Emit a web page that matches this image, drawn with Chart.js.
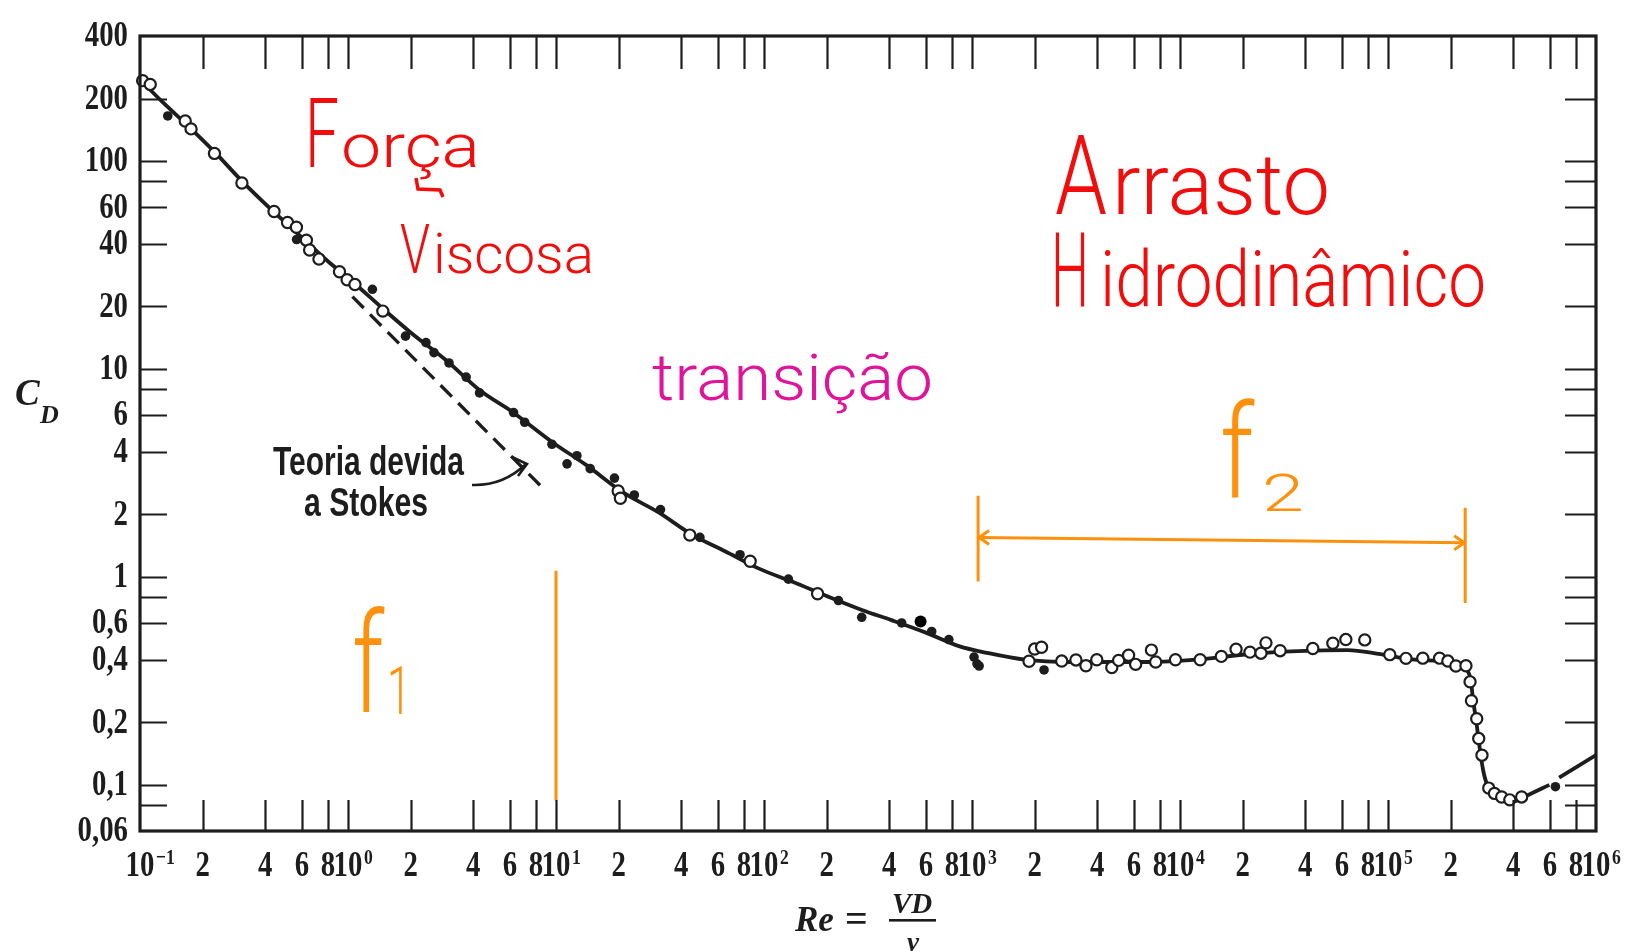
<!DOCTYPE html>
<html>
<head>
<meta charset="utf-8">
<script src="https://cdn.jsdelivr.net/npm/chart.js@4.4.0/dist/chart.umd.min.js"></script>
<style>
  html, body { margin: 0; padding: 0; background: #fff; }
  #wrap { width: 1635px; height: 951px; position: relative; }
</style>
</head>
<body>
<div id="wrap"><canvas id="cdChart"></canvas></div>
<script>
// Drag coefficient of a sphere (Re, C_D)
var curveRe = [0.1, 0.13, 0.17, 0.23, 0.31, 0.44, 0.6, 0.8, 1.0, 1.5, 2.0, 3.0, 4.3, 6.2, 9.6, 14, 21, 31, 45, 65, 94, 140, 200, 300, 410, 600, 865, 1200, 1800, 3000, 7000, 12000, 21000, 37000, 64000, 92000, 135000, 194000, 234000, 250000, 256000, 266000, 276000, 288000, 305000, 344000, 400000, 463000, 597000, 630000, 665000, 1000000];
var curveCd = [247, 190, 148, 110, 80, 57, 43, 33, 27.5, 19.2, 15, 10.9, 7.9, 6.2, 4.45, 3.45, 2.55, 2.05, 1.6, 1.33, 1.1, 0.94, 0.81, 0.69, 0.62, 0.54, 0.465, 0.43, 0.40, 0.39, 0.39, 0.40, 0.425, 0.44, 0.445, 0.425, 0.40, 0.39, 0.362, 0.32, 0.26, 0.2, 0.15, 0.115, 0.096, 0.085, 0.083, 0.0886, 0.10, null, 0.1085, 0.139];

// open circles
var openRe = [0.103, 0.112, 0.165, 0.176, 0.228, 0.309, 0.441, 0.512, 0.565, 0.631, 0.654, 0.725, 0.91, 0.99, 1.08, 1.47, 19.9, 20.4, 44, 85.8, 181, 1880, 2000, 2160, 2700, 3160, 3530, 3980, 4700, 5070, 5660, 6120, 7290, 7640, 9510, 12500, 15800, 18600, 21700, 24500, 25900, 30300, 43500, 54300, 62700, 77300, 102000, 122000, 147000, 177000, 194000, 212000, 237000, 248000, 252000, 267000, 273000, 283000, 305000, 325000, 352000, 385000, 439000];
var openCd = [244, 234, 156, 143, 109, 78.5, 57.3, 50.7, 48.1, 41.7, 37.4, 33.8, 29.4, 26.9, 25.5, 19.0, 2.59, 2.39, 1.59, 1.19, 0.83, 0.393, 0.45, 0.459, 0.394, 0.399, 0.374, 0.40, 0.367, 0.397, 0.42, 0.38, 0.445, 0.39, 0.40, 0.40, 0.415, 0.449, 0.435, 0.43, 0.482, 0.442, 0.453, 0.48, 0.50, 0.498, 0.423, 0.406, 0.407, 0.407, 0.394, 0.373, 0.374, 0.313, 0.254, 0.208, 0.167, 0.139, 0.0965, 0.091, 0.0874, 0.0847, 0.0875];

// filled dots
var dotRe = [0.136, 0.566, 1.31, 1.89, 2.37, 2.59, 3.06, 3.7, 4.29, 6.25, 7.07, 9.56, 11.3, 12.6, 14.6, 19.1, 23.8, 31.8, 49.2, 76.7, 131, 228, 295, 459, 640, 774, 1023, 1057, 1082, 2220, 638000];
var dotCd = [165, 42, 24.2, 14.4, 13.4, 12.0, 10.7, 9.15, 7.68, 6.18, 5.55, 4.35, 3.5, 3.83, 3.32, 2.99, 2.48, 2.11, 1.55, 1.28, 0.976, 0.77, 0.64, 0.601, 0.547, 0.50, 0.412, 0.382, 0.373, 0.357, 0.098];
var bigDotRe = [566];
var bigDotCd = [0.61];

// Stokes theory (dashed)
var stokesRe = [1.05, 8.9];
var stokesCd = [22.3, 2.6];

// hand drawn orange marks
var f1LineRe = [10, 10];
var f1LineCd = [1.07, 0.084];
var f2LeftRe = [1070, 1070];
var f2LeftCd = [2.46, 0.95];
var f2RightRe = [235000, 235000];
var f2RightCd = [2.15, 0.75];
var f2ArrowRe = [1070, 235000];
var f2ArrowCd = [1.55, 1.46];

// axis ticks
var xTickVals = [0.1, 0.2, 0.4, 0.6, 0.8, 1, 2, 4, 6, 8, 10, 20, 40, 60, 80, 100, 200, 400, 600, 800, 1000, 2000, 4000, 6000, 8000, 1e4, 2e4, 4e4, 6e4, 8e4, 1e5, 2e5, 4e5, 6e5, 8e5, 1e6];
var xTickLabels = ['10⁻¹', '2', '4', '6', '8', '10⁰', '2', '4', '6', '8', '10¹', '2', '4', '6', '8', '10²', '2', '4', '6', '8', '10³', '2', '4', '6', '8', '10⁴', '2', '4', '6', '8', '10⁵', '2', '4', '6', '8', '10⁶'];
var yTickVals = [0.06, 0.08, 0.1, 0.2, 0.4, 0.6, 0.8, 1, 2, 4, 6, 8, 10, 20, 40, 60, 80, 100, 200, 400];
var yTickLabels = ['0,06', '', '0,1', '0,2', '0,4', '0,6', '', '1', '2', '4', '6', '', '10', '20', '40', '60', '', '100', '200', '400'];

var ink = '#1d1d1d';
var red = '#f20d0d';
var magenta = '#e0149b';
var orange = '#ff900c';
var handFont = 'Roboto, "Open Sans", sans-serif';
var supPlain = { '⁻': '−', '⁰': '0', '¹': '1', '²': '2', '³': '3', '⁴': '4', '⁵': '5', '⁶': '6' };

function pts(xs, ys) {
    return xs.map(function (x, i) { return { x: x, y: ys[i] }; });
}

function orangeLine(label, xs, ys) {
    return {
        label: label, data: pts(xs, ys), showLine: true,
        borderColor: orange, borderWidth: 3, pointRadius: 0, order: 5
    };
}

// draw a word squeezed into a given width
function handText(ctx, text, x, base, width, size, color, weight) {
    ctx.font = (weight || '300') + ' ' + size + 'px ' + handFont;
    var w = ctx.measureText(text).width;
    ctx.save();
    ctx.translate(x, base);
    ctx.scale(width / w, 1);
    ctx.fillStyle = color;
    ctx.textAlign = 'left';
    ctx.textBaseline = 'alphabetic';
    ctx.fillText(text, 0, 0);
    ctx.restore();
}

function fitText(ctx, text, x, base, width, font, color) {
    ctx.font = font;
    var w = ctx.measureText(text).width;
    ctx.save();
    ctx.translate(x, base);
    ctx.scale(width / w, 1);
    ctx.fillStyle = color;
    ctx.textAlign = 'left';
    ctx.fillText(text, 0, 0);
    ctx.restore();
}

// frame with inward ticks on all four sides, plus tick labels
var axesFrame = {
    id: 'axesFrame',
    afterDraw: function (chart) {
        var ctx = chart.ctx, a = chart.chartArea;
        var sx = chart.scales.x, sy = chart.scales.y;
        ctx.save();
        ctx.strokeStyle = ink;
        ctx.fillStyle = ink;
        ctx.lineWidth = 2.2;
        ctx.beginPath();
        xTickVals.forEach(function (v) {
            var px = Math.round(sx.getPixelForValue(v)) + 0.5;
            if (px > a.left + 2 && px < a.right - 2) {
                ctx.moveTo(px, a.top); ctx.lineTo(px, a.top + 33);
                ctx.moveTo(px, a.bottom); ctx.lineTo(px, a.bottom - 31);
            }
        });
        yTickVals.forEach(function (v) {
            var py = Math.round(sy.getPixelForValue(v)) + 0.5;
            if (py > a.top + 2 && py < a.bottom - 2) {
                ctx.moveTo(a.left, py); ctx.lineTo(a.left + 27, py);
                ctx.moveTo(a.right, py); ctx.lineTo(a.right - 31, py);
            }
        });
        ctx.stroke();
        ctx.lineWidth = 3.2;
        ctx.strokeRect(a.left, a.top, a.right - a.left, a.bottom - a.top);

        // labels in a condensed bold serif
        var mainFont = 'bold 36px "Liberation Serif", serif';
        var supFont = 'bold 22px "Liberation Serif", serif';
        ctx.font = mainFont;
        ctx.textBaseline = 'middle';
        yTickVals.forEach(function (v, i) {
            var lab = yTickLabels[i];
            if (!lab) return;
            var py = sy.getPixelForValue(v);
            ctx.save();
            ctx.translate(a.left - 12, py + 1);
            ctx.scale(0.8, 1);
            ctx.textAlign = 'right';
            ctx.fillText(lab, 0, 0);
            ctx.restore();
        });
        ctx.textBaseline = 'alphabetic';
        ctx.textAlign = 'left';
        xTickVals.forEach(function (v, i) {
            var lab = xTickLabels[i];
            var px = sx.getPixelForValue(v);
            var base = lab.length > 1 ? lab.slice(0, 2) : lab;
            var sup = lab.length > 1 ? lab.slice(2).split('').map(function (c) { return supPlain[c] || c; }).join('') : '';
            ctx.font = mainFont;
            var w = ctx.measureText(base).width;
            ctx.save();
            ctx.translate(px - w * 0.8 / 2, a.bottom + 45);
            ctx.scale(0.8, 1);
            ctx.fillText(base, 0, 0);
            if (sup) {
                ctx.font = supFont;
                ctx.fillText(sup, w + 2, -12);
            }
            ctx.restore();
        });
        ctx.restore();
    }
};

// printed labels and the handwritten notes
var notes = {
    id: 'notes',
    afterDraw: function (chart) {
        var ctx = chart.ctx;
        ctx.save();

        // C_D
        ctx.fillStyle = ink;
        ctx.font = 'italic bold 37px "Liberation Serif", serif';
        ctx.fillText('C', 15, 405);
        ctx.font = 'italic bold 26px "Liberation Serif", serif';
        ctx.fillText('D', 40, 423);

        // Re = VD / nu
        ctx.font = 'italic bold 35px "Liberation Serif", serif';
        ctx.fillText('Re', 795, 931);
        ctx.font = 'bold 40px "Liberation Serif", serif';
        ctx.fillText('=', 845, 932);
        ctx.font = 'italic bold 29px "Liberation Serif", serif';
        ctx.fillText('VD', 892, 913);
        ctx.fillRect(889, 919, 47, 2.6);
        ctx.textAlign = 'center';
        ctx.font = 'italic bold 27px "Liberation Serif", serif';
        ctx.fillText('ν', 913, 951);
        ctx.textAlign = 'left';

        // Stokes caption and its arrow
        var capFont = 'bold 41px "Liberation Sans Narrow", "Liberation Sans", sans-serif';
        fitText(ctx, 'Teoria devida', 273, 475, 191, capFont, ink);
        fitText(ctx, 'a Stokes', 304, 516, 124, capFont, ink);
        ctx.strokeStyle = ink;
        ctx.lineWidth = 2.6;
        ctx.beginPath();
        ctx.moveTo(472, 485);
        ctx.quadraticCurveTo(503, 486, 526, 464);
        ctx.moveTo(512, 457); ctx.lineTo(527, 464); ctx.lineTo(518, 476);
        ctx.stroke();

        // red notes
        handText(ctx, 'F', 305, 167, 34, 96, red);
        handText(ctx, 'orça', 341, 167, 139, 62, red);
        ctx.strokeStyle = red;
        ctx.lineWidth = 3.5;
        ctx.beginPath();
        ctx.moveTo(416, 178); ctx.lineTo(418, 189); ctx.lineTo(440, 190); ctx.lineTo(443, 197);
        ctx.stroke();
        handText(ctx, 'V', 400, 273, 30, 69, red);
        handText(ctx, 'iscosa', 433, 273, 161, 56, red);
        handText(ctx, 'A', 1055, 214, 52, 112, red);
        handText(ctx, 'rrasto', 1112, 214, 218, 86, red);
        handText(ctx, 'H', 1051, 306, 38, 103, red);
        handText(ctx, 'idrodinâmico', 1100, 306, 386, 78, red);
        handText(ctx, 'transição', 652, 400, 281, 64, magenta);

        // orange labels
        handText(ctx, 'f', 352, 712, 32, 140, orange);
        handText(ctx, '1', 387, 714, 24, 66, orange);
        handText(ctx, 'f', 1220, 498, 34, 130, orange);
        handText(ctx, '2', 1262, 511, 42, 52, orange);

        // arrow heads on the f2 span
        var idx = chart.data.datasets.findIndex(function (d) { return d.label === 'f2 span'; });
        var els = chart.getDatasetMeta(idx).data;
        var p0 = els[0], p1 = els[els.length - 1];
        ctx.strokeStyle = orange;
        ctx.lineWidth = 3;
        ctx.beginPath();
        ctx.moveTo(p0.x + 11, p0.y - 7); ctx.lineTo(p0.x + 1, p0.y); ctx.lineTo(p0.x + 11, p0.y + 7);
        ctx.moveTo(p1.x - 11, p1.y - 7); ctx.lineTo(p1.x - 1, p1.y); ctx.lineTo(p1.x - 11, p1.y + 7);
        ctx.stroke();
        ctx.restore();
    }
};

var ctx = document.getElementById('cdChart').getContext('2d');
var chart = new Chart(ctx, {
    type: 'line',
    data: {
        datasets: [
            {
                label: 'open',
                data: pts(openRe, openCd),
                showLine: false,
                pointRadius: 5.6,
                pointBorderWidth: 2.2,
                pointBackgroundColor: '#ffffff',
                pointBorderColor: ink,
                clip: false,
                order: 0
            },
            {
                label: 'filled',
                data: pts(dotRe, dotCd),
                showLine: false,
                pointRadius: 4.8,
                pointBorderWidth: 0,
                pointBackgroundColor: ink,
                order: 1
            },
            {
                label: 'filled big',
                data: pts(bigDotRe, bigDotCd),
                showLine: false,
                pointRadius: 6,
                pointBorderWidth: 0,
                pointBackgroundColor: '#000',
                order: 1
            },
            {
                label: 'curve',
                data: pts(curveRe, curveCd),
                showLine: true,
                spanGaps: false,
                borderColor: ink,
                borderWidth: 3.8,
                pointRadius: 0,
                cubicInterpolationMode: 'monotone',
                order: 2
            },
            {
                label: 'Stokes',
                data: pts(stokesRe, stokesCd),
                showLine: true,
                borderColor: ink,
                borderWidth: 3.3,
                borderDash: [16, 9],
                pointRadius: 0,
                order: 3
            },
            orangeLine('f1 limit', f1LineRe, f1LineCd),
            orangeLine('f2 left', f2LeftRe, f2LeftCd),
            orangeLine('f2 right', f2RightRe, f2RightCd),
            orangeLine('f2 span', f2ArrowRe, f2ArrowCd)
        ]
    },
    options: {
        responsive: true,
        maintainAspectRatio: false,
        animation: false,
        layout: { padding: { left: 140, right: 39, top: 36, bottom: 120 } },
        plugins: {
            legend: { display: false },
            tooltip: { enabled: false }
        },
        scales: {
            x: { type: 'logarithmic', min: 0.1, max: 1e6, display: false },
            y: { type: 'logarithmic', min: 0.06, max: 400, display: false }
        }
    },
    plugins: [axesFrame, notes]
});
</script>
</body>
</html>
